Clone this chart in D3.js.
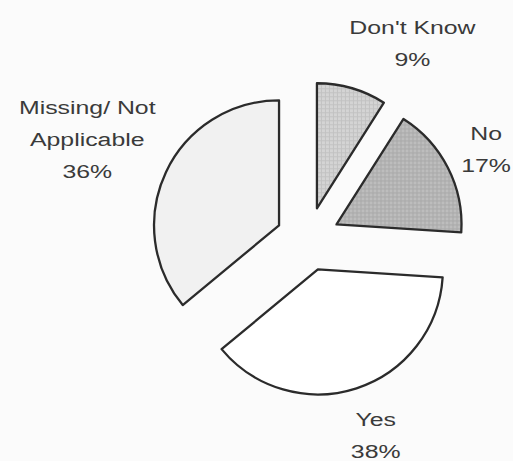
<!DOCTYPE html>
<html>
<head>
<meta charset="utf-8">
<script src="https://cdn.jsdelivr.net/npm/d3@7"></script>
<style>
  html, body { margin: 0; padding: 0; background: #fbfbfb; }
  svg { display: block; }
</style>
</head>
<body>
<script>
// ---- data ----
const categories = ["Don't Know", "No", "Yes", "Missing/ Not Applicable"];
const values = [9, 17, 38, 36];
const labelLines = [["Don't Know", "9%"], ["No", "17%"], ["Yes", "38%"], ["Missing/ Not", "Applicable", "36%"]];

// ---- layout ----
const W = 513, H = 461;
const cx = 308, cy = 239, R = 125, explode = 32;
const fills = ["url(#pDK)", "url(#pNo)", "#ffffff", "#f1f1f1"];
const labelAngleShift = [12, 0.5, -1, -1];   // degrees
const labelDist = [221, 199, 208, 242];
const lineH = 32;

const svg = d3.select("body").append("svg").attr("width", W).attr("height", H);
svg.append("rect").attr("width", W).attr("height", H).attr("fill", "#fbfbfb");

const defs = svg.append("defs");
function gridPattern(id, base, line) {
  const p = defs.append("pattern").attr("id", id).attr("patternUnits", "userSpaceOnUse")
    .attr("width", 4).attr("height", 4);
  p.append("rect").attr("width", 4).attr("height", 4).attr("fill", base);
  p.append("path").attr("d", "M0,0.5H4M0.5,0V4").attr("stroke", line).attr("stroke-width", 1);
}
gridPattern("pDK", "#d4d4d4", "#c2c2c2");
gridPattern("pNo", "#bdbdbd", "#a9a9a9");

const pie = d3.pie().sort(null).value(d => d).startAngle(0).endAngle(2 * Math.PI);
const arcs = pie(values);
const arcGen = d3.arc().innerRadius(0).outerRadius(R);

const g = svg.append("g").attr("transform", `translate(${cx},${cy})`);
g.selectAll("path.slice").data(arcs).join("path")
  .attr("class", "slice")
  .attr("transform", d => {
    const a = (d.startAngle + d.endAngle) / 2;
    return `translate(${explode * Math.sin(a)},${-explode * Math.cos(a)})`;
  })
  .attr("d", arcGen)
  .attr("fill", (d, i) => fills[i])
  .attr("stroke", "#2b2b2b")
  .attr("stroke-width", 2.3)
  .attr("stroke-linejoin", "round");

// labels
const lg = g.selectAll("g.lab").data(arcs).join("g").attr("class", "lab")
  .attr("transform", (d, i) => {
    const a = (d.startAngle + d.endAngle) / 2 + labelAngleShift[i] * Math.PI / 180;
    return `translate(${labelDist[i] * Math.sin(a)},${-labelDist[i] * Math.cos(a)})`;
  });
lg.each(function(d, i) {
  const lines = labelLines[i];
  const n = lines.length;
  d3.select(this).selectAll("text").data(lines).join("text")
    .attr("transform", (t, j) => `translate(0,${(j - (n - 1) / 2) * lineH}) scale(1.38,1)`)
    .attr("text-anchor", "middle")
    .attr("dominant-baseline", "central")
    .attr("font-family", "Liberation Sans, Arial, sans-serif")
    .attr("font-size", 18)
    .attr("fill", "#3a3a3a")
    .text(t => t);
});
</script>
</body>
</html>
